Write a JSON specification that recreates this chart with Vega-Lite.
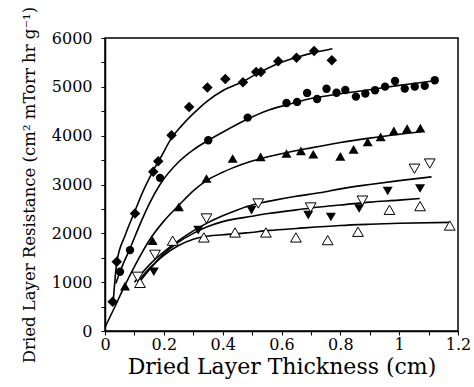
{
  "$schema": "https://vega.github.io/schema/vega-lite/v6.json",
  "width": 353,
  "height": 293,
  "autosize": "none",
  "padding": {"left": 105, "top": 38, "right": 16, "bottom": 56},
  "background": "white",
  "config": {
    "font": "DejaVu Serif",
    "view": {"stroke": "black", "strokeWidth": 1.5},
    "axis": {
      "grid": false,
      "domainColor": "black",
      "domainWidth": 1.5,
      "tickColor": "black",
      "tickSize": 4,
      "labelFont": "DejaVu Serif",
      "labelFontSize": 16,
      "labelColor": "black",
      "titleFont": "DejaVu Serif",
      "titleFontWeight": "normal",
      "titleColor": "black",
      "labelFlush": false,
      "labelOverlap": false,
      "labelBound": false
    }
  },
  "datasets": {
    "pts": [
      {"s": "D", "x": 0.026, "y": 600}, {"s": "D", "x": 0.04, "y": 1418}, {"s": "D", "x": 0.102, "y": 2407}, {"s": "D", "x": 0.164, "y": 3259}, {"s": "D", "x": 0.181, "y": 3477}, {"s": "D", "x": 0.226, "y": 4009}, {"s": "D", "x": 0.286, "y": 4589}, {"s": "D", "x": 0.348, "y": 4984}, {"s": "D", "x": 0.409, "y": 5161}, {"s": "D", "x": 0.469, "y": 5093}, {"s": "D", "x": 0.514, "y": 5305}, {"s": "D", "x": 0.53, "y": 5305}, {"s": "D", "x": 0.589, "y": 5523}, {"s": "D", "x": 0.651, "y": 5598}, {"s": "D", "x": 0.711, "y": 5734}, {"s": "D", "x": 0.771, "y": 5543},
      {"s": "C", "x": 0.051, "y": 1214}, {"s": "C", "x": 0.085, "y": 1657}, {"s": "C", "x": 0.187, "y": 3136}, {"s": "C", "x": 0.351, "y": 3907}, {"s": "C", "x": 0.485, "y": 4370}, {"s": "C", "x": 0.617, "y": 4670}, {"s": "C", "x": 0.653, "y": 4691}, {"s": "C", "x": 0.687, "y": 4875}, {"s": "C", "x": 0.721, "y": 4752}, {"s": "C", "x": 0.753, "y": 4960}, {"s": "C", "x": 0.787, "y": 4880}, {"s": "C", "x": 0.817, "y": 4935}, {"s": "C", "x": 0.853, "y": 4800}, {"s": "C", "x": 0.885, "y": 4861}, {"s": "C", "x": 0.918, "y": 4929}, {"s": "C", "x": 0.952, "y": 5004}, {"s": "C", "x": 0.986, "y": 5120}, {"s": "C", "x": 1.019, "y": 4964}, {"s": "C", "x": 1.053, "y": 5004}, {"s": "C", "x": 1.087, "y": 5020}, {"s": "C", "x": 1.121, "y": 5134},
      {"s": "TU", "x": 0.068, "y": 920}, {"s": "TU", "x": 0.162, "y": 1848}, {"s": "TU", "x": 0.251, "y": 2543}, {"s": "TU", "x": 0.345, "y": 3123}, {"s": "TU", "x": 0.434, "y": 3532}, {"s": "TU", "x": 0.529, "y": 3566}, {"s": "TU", "x": 0.617, "y": 3634}, {"s": "TU", "x": 0.666, "y": 3689}, {"s": "TU", "x": 0.708, "y": 3620}, {"s": "TU", "x": 0.8, "y": 3575}, {"s": "TU", "x": 0.845, "y": 3720}, {"s": "TU", "x": 0.893, "y": 3872}, {"s": "TU", "x": 0.937, "y": 3975}, {"s": "TU", "x": 0.982, "y": 4097}, {"s": "TU", "x": 1.027, "y": 4145}, {"s": "TU", "x": 1.072, "y": 4155},
      {"s": "VO", "x": 0.111, "y": 1110}, {"s": "VO", "x": 0.17, "y": 1560}, {"s": "VO", "x": 0.345, "y": 2304}, {"s": "VO", "x": 0.521, "y": 2611}, {"s": "VO", "x": 0.699, "y": 2529}, {"s": "VO", "x": 0.875, "y": 2670}, {"s": "VO", "x": 1.052, "y": 3323}, {"s": "VO", "x": 1.104, "y": 3429},
      {"s": "VF", "x": 0.166, "y": 1214}, {"s": "VF", "x": 0.317, "y": 2066}, {"s": "VF", "x": 0.498, "y": 2475}, {"s": "VF", "x": 0.691, "y": 2373}, {"s": "VF", "x": 0.768, "y": 2335}, {"s": "VF", "x": 0.864, "y": 2509}, {"s": "VF", "x": 0.961, "y": 2866}, {"s": "VF", "x": 1.071, "y": 2918},
      {"s": "TO", "x": 0.119, "y": 985}, {"s": "TO", "x": 0.23, "y": 1850}, {"s": "TO", "x": 0.336, "y": 1916}, {"s": "TO", "x": 0.442, "y": 2018}, {"s": "TO", "x": 0.547, "y": 2018}, {"s": "TO", "x": 0.649, "y": 1916}, {"s": "TO", "x": 0.757, "y": 1861}, {"s": "TO", "x": 0.86, "y": 2032}, {"s": "TO", "x": 0.967, "y": 2482}, {"s": "TO", "x": 1.071, "y": 2557}, {"s": "TO", "x": 1.172, "y": 2160}
    ],
    "fit": [
      {"s": "D", "x": 0.028, "y": 600}, {"s": "D", "x": 0.04, "y": 1400}, {"s": "D", "x": 0.07, "y": 1980}, {"s": "D", "x": 0.1, "y": 2430}, {"s": "D", "x": 0.13, "y": 2870}, {"s": "D", "x": 0.16, "y": 3240}, {"s": "D", "x": 0.19, "y": 3560}, {"s": "D", "x": 0.226, "y": 3950}, {"s": "D", "x": 0.26, "y": 4200}, {"s": "D", "x": 0.3, "y": 4450}, {"s": "D", "x": 0.35, "y": 4720}, {"s": "D", "x": 0.4, "y": 4920}, {"s": "D", "x": 0.47, "y": 5110}, {"s": "D", "x": 0.52, "y": 5280}, {"s": "D", "x": 0.59, "y": 5480}, {"s": "D", "x": 0.65, "y": 5600}, {"s": "D", "x": 0.71, "y": 5700}, {"s": "D", "x": 0.773, "y": 5780},
      {"s": "C", "x": 0.037, "y": 975}, {"s": "C", "x": 0.051, "y": 1213}, {"s": "C", "x": 0.085, "y": 1690}, {"s": "C", "x": 0.12, "y": 2200}, {"s": "C", "x": 0.15, "y": 2600}, {"s": "C", "x": 0.187, "y": 3000}, {"s": "C", "x": 0.25, "y": 3460}, {"s": "C", "x": 0.3, "y": 3710}, {"s": "C", "x": 0.35, "y": 3900}, {"s": "C", "x": 0.4, "y": 4070}, {"s": "C", "x": 0.485, "y": 4340}, {"s": "C", "x": 0.55, "y": 4510}, {"s": "C", "x": 0.617, "y": 4630}, {"s": "C", "x": 0.7, "y": 4760}, {"s": "C", "x": 0.8, "y": 4860}, {"s": "C", "x": 0.9, "y": 4940}, {"s": "C", "x": 1.0, "y": 5030}, {"s": "C", "x": 1.12, "y": 5125},
      {"s": "TU", "x": 0.0, "y": 75}, {"s": "TU", "x": 0.03, "y": 450}, {"s": "TU", "x": 0.068, "y": 940}, {"s": "TU", "x": 0.1, "y": 1320}, {"s": "TU", "x": 0.153, "y": 1880}, {"s": "TU", "x": 0.2, "y": 2250}, {"s": "TU", "x": 0.255, "y": 2600}, {"s": "TU", "x": 0.3, "y": 2870}, {"s": "TU", "x": 0.345, "y": 3080}, {"s": "TU", "x": 0.4, "y": 3250}, {"s": "TU", "x": 0.43, "y": 3330}, {"s": "TU", "x": 0.5, "y": 3480}, {"s": "TU", "x": 0.6, "y": 3630}, {"s": "TU", "x": 0.7, "y": 3750}, {"s": "TU", "x": 0.8, "y": 3860}, {"s": "TU", "x": 0.9, "y": 3950}, {"s": "TU", "x": 1.0, "y": 4030}, {"s": "TU", "x": 1.075, "y": 4080},
      {"s": "VO", "x": 0.1, "y": 1000}, {"s": "VO", "x": 0.15, "y": 1350}, {"s": "VO", "x": 0.2, "y": 1620}, {"s": "VO", "x": 0.25, "y": 1850}, {"s": "VO", "x": 0.3, "y": 2050}, {"s": "VO", "x": 0.35, "y": 2220}, {"s": "VO", "x": 0.4, "y": 2360}, {"s": "VO", "x": 0.45, "y": 2480}, {"s": "VO", "x": 0.5, "y": 2580}, {"s": "VO", "x": 0.56, "y": 2660}, {"s": "VO", "x": 0.65, "y": 2760}, {"s": "VO", "x": 0.73, "y": 2830}, {"s": "VO", "x": 0.8, "y": 2910}, {"s": "VO", "x": 0.9, "y": 3000}, {"s": "VO", "x": 1.0, "y": 3080}, {"s": "VO", "x": 1.11, "y": 3157},
      {"s": "VF", "x": 0.11, "y": 950}, {"s": "VF", "x": 0.15, "y": 1250}, {"s": "VF", "x": 0.2, "y": 1580}, {"s": "VF", "x": 0.25, "y": 1820}, {"s": "VF", "x": 0.3, "y": 2000}, {"s": "VF", "x": 0.35, "y": 2140}, {"s": "VF", "x": 0.4, "y": 2240}, {"s": "VF", "x": 0.5, "y": 2350}, {"s": "VF", "x": 0.56, "y": 2410}, {"s": "VF", "x": 0.65, "y": 2480}, {"s": "VF", "x": 0.73, "y": 2540}, {"s": "VF", "x": 0.8, "y": 2580}, {"s": "VF", "x": 0.9, "y": 2640}, {"s": "VF", "x": 1.0, "y": 2680}, {"s": "VF", "x": 1.07, "y": 2713},
      {"s": "TO", "x": 0.11, "y": 1000}, {"s": "TO", "x": 0.15, "y": 1280}, {"s": "TO", "x": 0.2, "y": 1550}, {"s": "TO", "x": 0.25, "y": 1750}, {"s": "TO", "x": 0.3, "y": 1880}, {"s": "TO", "x": 0.334, "y": 1930}, {"s": "TO", "x": 0.4, "y": 1970}, {"s": "TO", "x": 0.48, "y": 2010}, {"s": "TO", "x": 0.56, "y": 2060}, {"s": "TO", "x": 0.65, "y": 2100}, {"s": "TO", "x": 0.8, "y": 2160}, {"s": "TO", "x": 0.9, "y": 2185}, {"s": "TO", "x": 1.0, "y": 2205}, {"s": "TO", "x": 1.172, "y": 2225}
    ]
  },
  "encoding": {
    "x": {
      "field": "x", "type": "quantitative",
      "scale": {"domain": [0, 1.2], "nice": false, "zero": false},
      "axis": {
        "values": [0, 0.1, 0.2, 0.3, 0.4, 0.5, 0.6, 0.7, 0.8, 0.9, 1.0, 1.1, 1.2],
        "labelExpr": "round(datum.value * 10) % 2 == 0 ? format(datum.value, '~g') : ''",
        "labelFont": "DejaVu Serif",
        "labelFontSize": 16,
        "labelPadding": 1,
        "title": "Dried Layer Thickness (cm)",
        "titleFontSize": 22,
        "titlePadding": 4
      }
    },
    "y": {
      "field": "y", "type": "quantitative",
      "scale": {"domain": [0, 6000], "nice": false},
      "axis": {
        "values": [0, 500, 1000, 1500, 2000, 2500, 3000, 3500, 4000, 4500, 5000, 5500, 6000],
        "labelExpr": "round(datum.value) % 1000 == 0 ? '' + datum.value : ''",
        "labelFont": "DejaVu Serif",
        "labelFontSize": 16,
        "labelPadding": 9,
        "title": "Dried Layer Resistance (cm² mTorr hr g⁻¹)",
        "titleFontSize": 16.5,
        "titlePadding": 14
      }
    }
  },
  "layer": [
    {
      "data": {"name": "fit"},
      "mark": {"type": "line", "color": "black", "strokeWidth": 1.6, "interpolate": "monotone"},
      "encoding": {"detail": {"field": "s", "type": "nominal"}}
    },
    {
      "data": {"name": "pts"},
      "transform": [{"filter": "datum.s == 'D'"}],
      "mark": {"type": "point", "shape": "diamond", "filled": true, "color": "black", "opacity": 1, "size": 110}
    },
    {
      "data": {"name": "pts"},
      "transform": [{"filter": "datum.s == 'C'"}],
      "mark": {"type": "point", "shape": "circle", "filled": true, "color": "black", "opacity": 1, "size": 70}
    },
    {
      "data": {"name": "pts"},
      "transform": [{"filter": "datum.s == 'TU'"}],
      "mark": {"type": "point", "shape": "triangle-up", "filled": true, "color": "black", "opacity": 1, "size": 100}
    },
    {
      "data": {"name": "pts"},
      "transform": [{"filter": "datum.s == 'VF'"}],
      "mark": {"type": "point", "shape": "triangle-down", "filled": true, "color": "black", "opacity": 1, "size": 100}
    },
    {
      "data": {"name": "pts"},
      "transform": [{"filter": "datum.s == 'VO'"}],
      "mark": {"type": "point", "shape": "triangle-down", "filled": true, "fill": "white", "stroke": "black", "strokeWidth": 1, "opacity": 1, "size": 115}
    },
    {
      "data": {"name": "pts"},
      "transform": [{"filter": "datum.s == 'TO'"}],
      "mark": {"type": "point", "shape": "triangle-up", "filled": true, "fill": "white", "stroke": "black", "strokeWidth": 1, "opacity": 1, "size": 115}
    }
  ]
}
